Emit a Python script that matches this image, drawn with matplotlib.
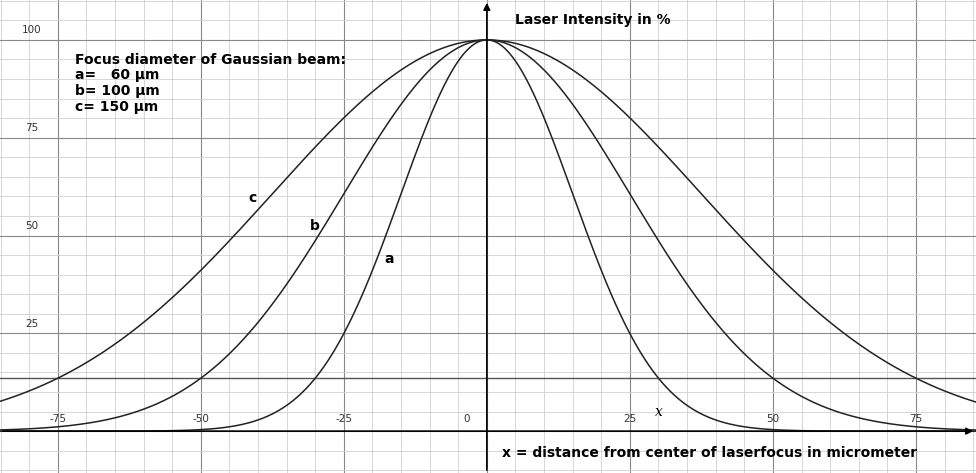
import numpy as np
import matplotlib
matplotlib.use("Agg")
import matplotlib.pyplot as plt

diam_labels = ["a", "b", "c"]
diameters_um = [60, 100, 150]
label_pos = [(-17, 44), (-30, 52.5), (-41, 59.5)]
y_ticks = [25, 50, 75, 100]
x_ticks = [-75, -50, -25, 0, 25, 50, 75]
level_line = 13.5

fig = plt.figure(figsize=(9.76, 4.73), dpi=100)
ax = fig.add_axes([0, 0, 1, 1])
xmin, xmax, ymin, ymax = -85.1, 85.5, -10.7, 110.2
ax.set_xlim(xmin, xmax); ax.set_ylim(ymin, ymax)
ax.axis("off")

for v in np.arange(-85, 86, 5):
    major = v % 25 == 0
    ax.axvline(v, color="#888888" if major else "#d0d0d0", lw=0.8 if major else 0.6, zorder=0)
for v in np.arange(-10, 111, 5):
    major = v % 25 == 0
    ax.axhline(v, color="#888888" if major else "#d0d0d0", lw=0.8 if major else 0.6, zorder=0)
ax.axhline(level_line, color="#555555", lw=1.0)

ax.annotate("", xy=(0, ymax), xytext=(0, ymin), arrowprops=dict(arrowstyle="-|>", color="black", lw=1.2))
ax.annotate("", xy=(xmax, 0), xytext=(xmin, 0), arrowprops=dict(arrowstyle="-|>", color="black", lw=1.2))

x = np.linspace(xmin, xmax, 800)
for d in diameters_um:
    w = d / 2
    ax.plot(x, 100 * np.exp(-2 * x**2 / w**2), color="#222222", lw=1.1)
for lab, (px, py) in zip(diam_labels, label_pos):
    ax.text(px, py, lab, fontsize=10, fontweight="bold", ha="center", va="center")

for t in y_ticks:
    ax.text(-79.5, t + 1.2, str(t), fontsize=7.5, ha="center", va="bottom", color="#333333")
for t in x_ticks:
    ax.text(t - (3.5 if t == 0 else 0), 1.8, str(t), fontsize=7.5, ha="center", va="bottom", color="#333333")
ax.text(30, 5, "x", fontsize=10, style="italic", family="DejaVu Serif", ha="center", va="center")

ax.text(5, 105, "Laser Intensity in %", fontsize=10, fontweight="bold", va="center")
ax.text(-72, 96.7, "Focus diameter of Gaussian beam:\na=   60 µm\nb= 100 µm\nc= 150 µm",
        fontsize=10, fontweight="bold", va="top", linespacing=1.15)
ax.text(2.7, -5.5, "x = distance from center of laserfocus in micrometer", fontsize=10,
        fontweight="bold", va="center")

fig.savefig("out.png", dpi=100)
